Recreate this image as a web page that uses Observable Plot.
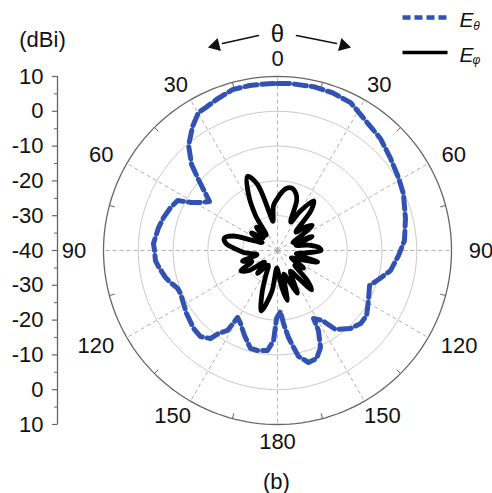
<!DOCTYPE html>
<html><head><meta charset="utf-8">
<script src="https://cdn.jsdelivr.net/npm/d3@7"></script>
<script src="https://cdn.jsdelivr.net/npm/@observablehq/plot@0.6"></script>
<style>html,body{margin:0;padding:0;background:#fff;} svg{display:block;}</style>
</head><body><div id="chart"></div>
<script>
// E_theta (blue dashed): angle (deg, clockwise from top; left half = 360-theta), gain dBi
const thetaAngles = [0,4.5,12.4,19.2,26.3,34.1,42.6,50.8,58.9,65.7,76,85.5,92.4,100,106,110.8,117.8,126.1,131.3,136.9,143.7,147.3,152.1,152.9,156.1,160.1,164.5,168.8,170.6,172.8,175.3,177.2,180.8,182.5,185.7,191.3,195.4,201.2,206.9,210.8,212,215.4,217.3,221.8,227.1,235.3,240.6,246.1,249.2,253.4,256.4,262.3,265.3,269.5,273.2,280.9,286.1,291.9,296.6,298.9,302.6,305.8,307.1,311.9,315,319.7,325.6,330.2,332.8,338,344.4,350.4,356.9];
const thetaValues = [8.0,8.1,8.2,8.0,7.4,5.1,3.7,1.9,0.6,-0.3,-2.1,-3.4,-5.2,-7.0,-9.8,-11.7,-10.4,-8.3,-8.2,-9.3,-11.8,-16.1,-17.9,-14.2,-9.5,-7.0,-6.6,-9.0,-11.8,-14.8,-19.0,-22.5,-20.5,-14.1,-11.1,-10.7,-10.8,-13.8,-16.5,-17.6,-12.9,-10.8,-8.2,-6.8,-7.1,-8.2,-9.0,-9.5,-9.3,-7.9,-6.9,-5.5,-4.8,-4.7,-4.3,-5.2,-5.9,-6.9,-7.9,-11.4,-14.4,-15.9,-14.8,-9.5,-5.1,-0.5,3.2,5.7,5.9,6.8,8.0,8.1,8.0];
// E_phi (black solid)
const phiAngles = [0,3,8,13,18,21,25,30,36,40,45,50,54,58,63,68,74,80,86,90,95,100,106,112,118,124,130,135,139,143,148,155,160,165,169,173,177,182,188,195,200,205,212,221,228,235,241,247,253,259,266,272,278,283,288,292,298,304,312,318,324,328,333,338,343,348,351,355];
const phiValues = [-25,-23.7,-22,-21.6,-22.8,-24.6,-31,-27,-22.3,-25,-32.5,-29.5,-27.7,-32,-35,-29.3,-34.5,-31,-28,-27.5,-32,-34.5,-28,-33,-35.5,-31,-33.5,-28,-25,-30,-33,-26.5,-31,-33,-25.4,-29,-33,-35,-28,-22,-27,-32,-35,-31.3,-35,-30,-28,-32,-29.5,-34,-30.5,-28,-25,-24.3,-26.5,-32,-35,-31,-34.5,-31,-34.5,-28,-21.5,-17,-20,-29,-31.5,-27];

const angleTicks = [0,30,60,90,120,150,180];
const dbTicks = [10,0,-10,-20,-30,-40,-30,-20,-10,0,10];
const gridLevels = [-30,-20,-10,0];
const legendNames = ["θ","φ"];
const rMin = -40, rMax = 10;
const R = rMax - rMin;               // 50 units = outer ring
const PX = 3.48;                     // px per unit (348 px / 100 units)
const rad = a => a*Math.PI/180;
const pol = (a, v) => ({x: (v - rMin)*Math.sin(rad(a)), y: (v - rMin)*Math.cos(rad(a))});

const thetaData = thetaAngles.map((a,i)=>pol(a, thetaValues[i]));
const phiData = phiAngles.map((a,i)=>pol(a, phiValues[i]));

// grid rings
const ringAngles = d3.range(0, 361, 2);
const rings = [];
gridLevels.forEach(v => ringAngles.forEach(a => rings.push({...pol(a, v), ring: v})));
const outer = ringAngles.map(a => pol(a, rMax));
// radial spokes
const spokes = d3.range(0, 360, 30).map(a => ({x2: R*Math.sin(rad(a)), y2: R*Math.cos(rad(a))}));
const minorTicks = d3.range(15, 360, 30).map(a => ({
  x1: (R-1.6)*Math.sin(rad(a)), y1: (R-1.6)*Math.cos(rad(a)),
  x2: R*Math.sin(rad(a)), y2: R*Math.cos(rad(a))}));
// angle labels (both halves)
const angleLabels = [];
angleTicks.forEach(t => {
  const sides = (t===0||t===180) ? [t] : [t, 360-t];
  sides.forEach(a => {
    const s = String(t);
    const hw = s.length*6.1/PX;
    angleLabels.push({x: 55*Math.sin(rad(a)) + hw*Math.sin(rad(a)), y: 55*Math.cos(rad(a)), text: s});
  });
});
// left dB axis
const axX = (57-277)/PX;
const dbLabelData = dbTicks.map((v,i) => ({y: (i<=5 ? 1 : -1)*(v - rMin), text: String(v)}));
const majorTickY = dbLabelData.map(d => d.y);
const minorTickY = d3.range(-45, 50, 10);

const font = "Liberation Sans, Arial, Helvetica, sans-serif";
const blue = "#3152B2";

const legY1 = (250-17)/PX, legY2 = (250-52)/PX;
const legX1 = (402-277)/PX, legX2 = (446-277)/PX;

// theta direction arrows (shaft start -> tip), in px converted to units
const arrows = [
  {x1: (258-277)/PX, y1: (250-35)/PX, x2: (222-277)/PX, y2: (250-43)/PX, tx: (215-277)/PX, ty: (250-45)/PX, rot: -104},
  {x1: (296-277)/PX, y1: (250-35)/PX, x2: (336-277)/PX, y2: (250-43)/PX, tx: (343-277)/PX, ty: (250-45)/PX, rot: 104}
];

const chart = Plot.plot({
  width: 492, height: 493,
  marginLeft: 103, marginRight: 41, marginTop: 76, marginBottom: 69,
  x: {domain: [-R, R], axis: null},
  y: {domain: [-R, R], axis: null},
  style: {fontFamily: font, background: "#fff"},
  marks: [
    Plot.line(rings, {x: "x", y: "y", z: "ring", stroke: "#c9c9c9", strokeWidth: 1}),
    Plot.link(spokes, {x1: 0, y1: 0, x2: "x2", y2: "y2", stroke: "#a8a8a8", strokeWidth: 0.9, strokeDasharray: "4,3"}),
    Plot.line(outer, {x: "x", y: "y", stroke: "#666", strokeWidth: 1.3}),
    Plot.link(minorTicks, {x1: "x1", y1: "y1", x2: "x2", y2: "y2", stroke: "#666", strokeWidth: 1}),
    // left dB axis
    Plot.ruleX([axX], {y1: -R, y2: R, stroke: "#666", strokeWidth: 1.3}),
    Plot.link(majorTickY, {x1: axX - 1.6, x2: axX, y1: d => d, y2: d => d, stroke: "#666", strokeWidth: 1.2}),
    Plot.link(minorTickY, {x1: axX - 1.0, x2: axX, y1: d => d, y2: d => d, stroke: "#666", strokeWidth: 1}),
    Plot.text(dbLabelData, {x: (43-277)/PX, y: "y", text: "text", textAnchor: "end", fontSize: 22, fill: "#111"}),
    Plot.text(["(dBi)"], {x: (42-277)/PX, y: (250-39)/PX, text: d => d, fontSize: 22, fill: "#111"}),
    // angle labels
    Plot.text(angleLabels, {x: "x", y: "y", text: "text", fontSize: 22, fill: "#111"}),
    // data
    Plot.line(thetaData, {x: "x", y: "y", curve: "linear-closed", stroke: blue, strokeWidth: 5, strokeDasharray: "12,5"}),
    Plot.line(phiData, {x: "x", y: "y", curve: "catmull-rom-closed", stroke: "#000", strokeWidth: 4.8, strokeLinejoin: "round"}),
    // theta direction
    Plot.text(["θ"], {x: 0, y: (250-34)/PX, text: d => d, fontSize: 24, fill: "#111"}),
    Plot.arrow(arrows, {x1: "x1", y1: "y1", x2: "x2", y2: "y2", bend: d => d.x2 < 0 ? -10 : 10, headLength: 0, stroke: "#111", strokeWidth: 1.6}),
    Plot.dot(arrows, {x: "tx", y: "ty", symbol: "triangle", r: 5, rotate: "rot", fill: "#111", stroke: "none"}),
    // legend
    Plot.link([legY1], {x1: legX1, x2: legX2, y1: d => d, y2: d => d, stroke: blue, strokeWidth: 4.5, strokeDasharray: "8,4"}),
    Plot.link([legY2], {x1: legX1, x2: legX2 + 0.3, y1: d => d, y2: d => d, stroke: "#000", strokeWidth: 3.5}),
    Plot.text(["E","E"], {x: (466-277)/PX, y: (d,i) => i===0 ? (250-20)/PX : (250-55)/PX, text: d => d, fontSize: 21, fontStyle: "italic", fill: "#111"}),
    Plot.text(legendNames, {x: (476-277)/PX, y: (d,i) => i===0 ? (250-26)/PX : (250-60)/PX, text: d => d, fontSize: 12, fontStyle: "italic", fill: "#111"}),
    Plot.text(["(b)"], {x: -0.3, y: (250-481)/PX, text: d => d, fontSize: 22, fill: "#111"})
  ]
});
document.getElementById("chart").appendChild(chart);
</script>
</body></html>
